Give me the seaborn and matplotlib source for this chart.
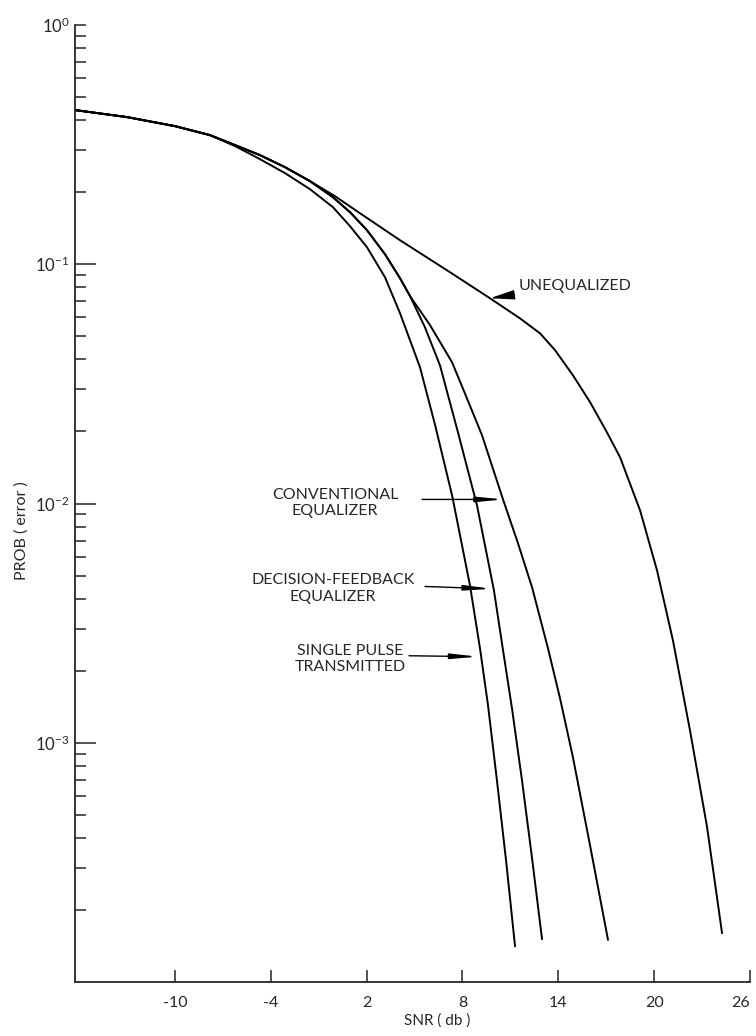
import matplotlib
matplotlib.use('Agg')
import matplotlib.pyplot as plt
import seaborn as sns

# ---- data (SNR in dB, probability of error) ----
# stretch that all four curves share
common_snr = [-16.26, -13.01, -10.0, -7.81]
common_prob = [0.441, 0.4122, 0.3778, 0.3465]

single_snr = [-6.24, -4.68, -3.11, -1.55, -0.11, 0.96, 2.02, 3.15, 4.09, 5.34,
              6.29, 7.35, 8.47, 9.10, 9.60, 10.16, 10.73, 11.29]
single_prob = [0.3118, 0.2750, 0.2403, 0.2060, 0.1732, 0.1442, 0.1178, 0.0882,
               0.0624, 0.0371, 0.0212, 0.0108, 0.00454, 0.00247, 0.00143,
               0.000693, 0.000321, 0.000141]

# equalized curves run together before they split
shared_snr = [-6.24, -4.68, -3.11, -1.55, -0.11, 0.96, 2.02, 3.15, 4.09, 4.72]
shared_prob = [0.3148, 0.2858, 0.2545, 0.2225, 0.1906, 0.1650, 0.1388, 0.1101,
               0.0874, 0.0735]

dfe_snr = [5.65, 6.59, 7.72, 8.91, 9.97, 10.54, 11.10, 11.73, 12.36, 12.98]
dfe_prob = [0.0545, 0.0378, 0.0198, 0.00981, 0.00433, 0.00243, 0.00139,
            0.000693, 0.000327, 0.000151]

conv_snr = [5.97, 7.35, 8.28, 9.22, 10.54, 11.48, 12.36, 13.36, 14.11, 14.92,
            15.99, 17.11]
conv_prob = [0.0556, 0.0389, 0.0275, 0.0193, 0.01039, 0.00680, 0.00445, 0.00247,
             0.00153, 0.000866, 0.000371, 0.000150]

uneq_snr = [0.02, 1.58, 4.09, 7.22, 9.72, 11.60, 12.86, 13.80, 14.92, 15.99,
            17.05, 17.87, 19.12, 20.18, 21.18, 22.25, 23.31, 24.25]
uneq_prob = [0.1925, 0.1634, 0.1260, 0.0926, 0.0721, 0.0594, 0.0514, 0.0437,
             0.0343, 0.0265, 0.0198, 0.01558, 0.00935, 0.00525, 0.00267,
             0.00112, 0.000445, 0.000160]

x_ticks = [-10, -4, 2, 8, 14, 20, 26]
y_major = [1e-3, 1e-2, 1e-1, 1e0]
y_labels = [r'$\mathregular{10^{-3}}$', r'$\mathregular{10^{-2}}$',
            r'$\mathregular{10^{-1}}$', r'$\mathregular{10^{0}}$']

# curve label text, text position, arrow tail, arrow tip
labels = [
    ('UNEQUALIZED', (11.5, 0.0809), None, (9.72, 0.0721)),
    ('CONVENTIONAL\nEQUALIZER', (0.02, 0.01005), (5.47, 0.0104), (10.54, 0.0104)),
    ('DECISION-FEEDBACK\nEQUALIZER', (-0.11, 0.0044), (5.65, 0.0045), (9.80, 0.0044)),
    ('SINGLE PULSE\nTRANSMITTED', (1.0, 0.00224), (4.65, 0.00231), (8.95, 0.00229)),
]

sns.set_style('ticks')
plt.rcParams['font.family'] = ['Lato', 'DejaVu Sans']
plt.rcParams['mathtext.fontset'] = 'custom'
plt.rcParams['mathtext.rm'] = 'Lato'

fig = plt.figure(figsize=(7.56, 10.36), dpi=100)
ax = fig.add_axes([75 / 756, 1 - 982 / 1036, 675 / 756, 957 / 1036])
ax.set_yscale('log')

curves = [
    (common_snr + single_snr, common_prob + single_prob),
    (common_snr + shared_snr + dfe_snr, common_prob + shared_prob + dfe_prob),
    (common_snr + shared_snr + conv_snr, common_prob + shared_prob + conv_prob),
    (common_snr + shared_snr[:4] + uneq_snr, common_prob + shared_prob[:4] + uneq_prob),
]
for xs, ys in curves:
    sns.lineplot(x=xs, y=ys, ax=ax, color='black', linewidth=1.4,
                 sort=False, estimator=None)
for line in ax.get_lines():
    line.set_solid_joinstyle('round')

ax.set_xlim(-16.26, 26)
ax.set_ylim(1e-4, 1e0)

ax.set_xticks(x_ticks)
ax.set_xticklabels([str(t) for t in x_ticks])
ax.get_xticklabels()[-1].set_ha('right')
ax.set_yticks(y_major)
ax.set_yticklabels(y_labels)
minors = [m * 10.0 ** e for e in range(-4, 0) for m in range(2, 10)]
ax.set_yticks(minors, minor=True)
ax.yaxis.set_minor_formatter(matplotlib.ticker.NullFormatter())

ax.tick_params(axis='x', direction='in', length=8.5, width=1.1, pad=10, labelsize=11.5)
ax.tick_params(axis='y', which='major', direction='in', length=15, width=1.1,
               pad=4, labelsize=12)
ax.tick_params(axis='y', which='minor', direction='in', length=8, width=1.1)
# the 10^0 tick at the top is short in the original
ax.yaxis.get_major_ticks()[-1].tick1line.set_markersize(8)

for side in ['top', 'right']:
    ax.spines[side].set_visible(False)
for side in ['left', 'bottom']:
    ax.spines[side].set_linewidth(1.3)

ax.set_xlabel('SNR ( db )', fontsize=11)
ax.xaxis.set_label_coords(0.536, -0.033)
ax.set_ylabel('PROB ( error )', fontsize=11.5)
ax.yaxis.set_label_coords(-0.068, 0.472)

for text, txy, tail, tip in labels:
    if tail is None:
        ax.annotate(text, xy=tip, xytext=txy, ha='left', va='center', fontsize=11.5,
                    arrowprops=dict(arrowstyle='-|>,head_length=1.3,head_width=0.25',
                                    color='black', lw=1.0, shrinkA=2, shrinkB=0))
    else:
        ax.text(txy[0], txy[1], text, ha='center', va='center', fontsize=11.5,
                linespacing=1.25)
        ax.annotate('', xy=tip, xytext=tail,
                    arrowprops=dict(arrowstyle='-|>,head_length=1.6,head_width=0.16',
                                    color='black', lw=1.0, shrinkA=0, shrinkB=0))

fig.savefig('out.png', dpi=100)
